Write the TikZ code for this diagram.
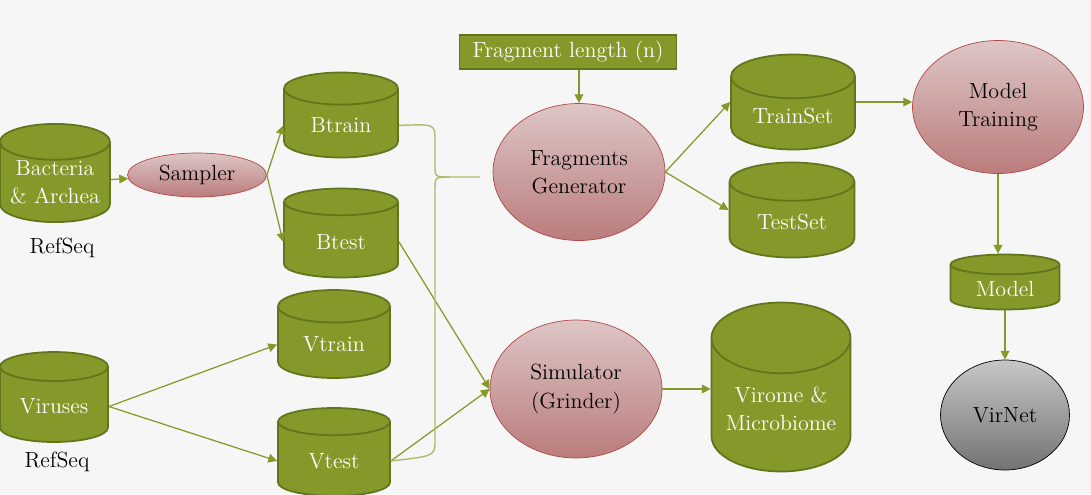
\documentclass[tikz,border=0pt]{standalone}
\usetikzlibrary{shapes.geometric,arrows.meta}

\definecolor{olive}{RGB}{132,153,41}
\definecolor{olivedark}{RGB}{96,117,28}
\definecolor{bracecol}{RGB}{172,188,110}
\definecolor{pinktop}{RGB}{222,198,198}
\definecolor{pinkbot}{RGB}{186,124,124}
\definecolor{pinkline}{RGB}{178,72,72}
\definecolor{bgcol}{RGB}{246,246,246}

\tikzset{
  db/.style={cylinder, shape border rotate=90, aspect=0.5, draw=olivedark, anchor=shape center,
    line width=1pt, fill=olive, text=white, align=center, inner sep=1pt,
    font=\fontsize{12.5}{16}\selectfont},
  proc/.style={ellipse, draw=pinkline, top color=pinktop, bottom color=pinkbot,
    align=center, font=\fontsize{12.5}{16}\selectfont, inner sep=0pt},
  flow/.style={olive, line width=0.7pt, -{Triangle[length=5pt,width=5pt]}},
}

\begin{document}
\begin{tikzpicture}[x=0.02cm, y=-0.02cm]
        % Background
        \fill[bgcol] (0,0) rectangle (1091,494);
        \useasboundingbox (0,0) rectangle (1091,494);

        % Bacteria side
        \node[db, aspect=0.4, inner sep=0pt, minimum width=2.2cm, minimum height=1.8cm] (bact) at (55,173) {Bacteria\\\& Archea};
        \node[font=\fontsize{12.5}{16}\selectfont] (refseqb) at (62,248) {RefSeq};
        \node[proc, minimum width=2.78cm, minimum height=0.88cm] (sampler) at (197,175) {Sampler};
        \node[db, minimum width=2.28cm, minimum height=1.7cm] (btrain) at (341,115) {Btrain};
        \node[db, minimum width=2.28cm, minimum height=1.78cm] (btest) at (341,233) {Btest};

        % Virus side
        \node[db, aspect=0.4, minimum width=2.16cm, minimum height=1.8cm] (vir) at (54,397) {Viruses};
        \node[font=\fontsize{12.5}{16}\selectfont] (refseqv) at (57,462) {RefSeq};
        \node[db, minimum width=2.24cm, minimum height=1.76cm] (vtrain) at (334,334) {Vtrain};
        \node[db, minimum width=2.24cm, minimum height=1.76cm] (vtest) at (334,452) {Vtest};

        % Generators
        \node[draw=olivedark, line width=1pt, fill=olive, text=white, minimum width=4.34cm,
          minimum height=0.66cm, font=\fontsize{12.5}{16}\selectfont] (fraglen) at (568,52) {Fragment length (n)};
        \node[proc, minimum width=3.44cm, minimum height=2.74cm] (fraggen) at (579,172) {Fragments\\Generator};
        \node[proc, minimum width=3.44cm, minimum height=2.76cm] (sim) at (576,389) {Simulator\\(Grinder)};

        % Outputs
        \node[db, aspect=0.52, minimum width=2.48cm, minimum height=1.9cm] (trainset) at (793,102) {TrainSet};
        \node[db, aspect=0.52, minimum width=2.5cm, minimum height=1.9cm] (testset) at (792,210) {TestSet};
        \node[db, aspect=0.62, minimum width=2.78cm, minimum height=3.38cm] (virome) at (781,387) {Virome \&\\Microbiome};
        \node[proc, minimum width=3.42cm, minimum height=2.66cm] (train) at (998,107) {Model\\Training};
        \node[db, aspect=0.32, minimum width=2.18cm, minimum height=1.1cm] (model) at (1005,282) {Model};
        \node[ellipse, draw=black, top color=black!22, bottom color=black!55, minimum width=2.58cm,
          minimum height=2.2cm, font=\fontsize{12.5}{16}\selectfont] (virnet) at (1005,415) {VirNet};

        % Arrows
        \draw[flow] (bact) -- (sampler);
        \draw[flow] (sampler.east) -- (btrain.west);
        \draw[flow] (sampler.east) -- (btest.west);
        \draw[flow] (vir.east) -- (vtrain.west);
        \draw[flow] (vir.east) -- (vtest.west);
        \draw[flow] (btest.east) -- (sim.west);
        \draw[flow] (vtest.east) -- (sim.west);
        \draw[flow] (fraglen.south -| fraggen.north) -- (fraggen.north);
        \draw[flow] (fraggen.east) -- (trainset.shape center -| trainset.west);
        \draw[flow] (fraggen.east) -- (testset.shape center -| testset.west);
        \draw[flow] (trainset.shape center -| trainset.east) -- (trainset.shape center -| train.west);
        \draw[flow] (train.south) -- (train.south |- model.north);
        \draw[flow] (model) -- (virnet);
        \draw[flow] (sim.east) -- (sim.east -| virome.west);

        % Brace joining Btrain and Vtest
        \coordinate (bracetip) at (480,177);
        \draw[bracecol, line width=0.8pt] (btrain.east) .. controls (435,124) .. (435,140)
          -- (435,165) .. controls (435,177) .. (450,177) -- (bracetip);
        \draw[bracecol, line width=0.8pt] (vtest.east) .. controls (435,456) .. (435,440)
          -- (435,190) .. controls (435,177) .. (450,177);
      \end{tikzpicture}
\end{document}
